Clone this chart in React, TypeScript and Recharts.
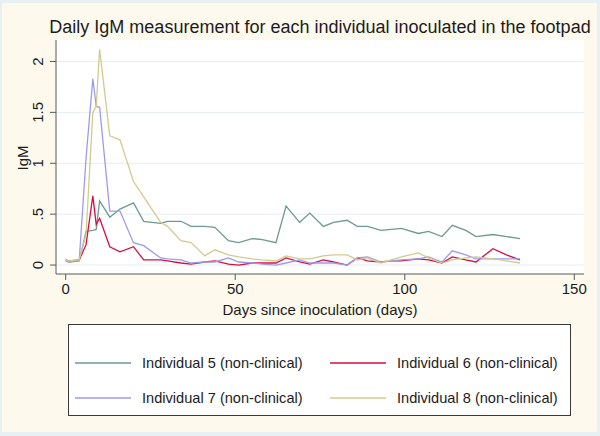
import React from 'react';
import { LineChart, Line, XAxis, YAxis, CartesianGrid } from 'recharts';

const days = [0, 1, 4, 6, 8, 9, 10, 13, 16, 20, 23, 28, 30, 34, 37, 41, 44, 48, 51, 55, 58, 62, 65, 69, 72, 76, 79, 83, 86, 89, 93, 96, 99, 104, 107, 111, 114, 118, 121, 126, 130, 134];

const ind5 = [0.04, 0.03, 0.04, 0.33, 0.34, 0.35, 0.63, 0.47, 0.55, 0.61, 0.43, 0.41, 0.43, 0.43, 0.38, 0.38, 0.37, 0.24, 0.22, 0.26, 0.25, 0.22, 0.58, 0.42, 0.51, 0.38, 0.42, 0.44, 0.38, 0.38, 0.34, 0.35, 0.36, 0.31, 0.33, 0.28, 0.39, 0.34, 0.28, 0.3, 0.28, 0.26];
const ind6 = [0.05, 0.04, 0.05, 0.2, 0.68, 0.4, 0.46, 0.18, 0.13, 0.18, 0.05, 0.05, 0.04, 0.02, 0.01, 0.03, 0.04, 0.01, 0.0, 0.02, 0.02, 0.02, 0.07, 0.03, 0.01, 0.05, 0.03, 0.0, 0.07, 0.04, 0.03, 0.04, 0.04, 0.06, 0.05, 0.02, 0.08, 0.05, 0.03, 0.16, 0.1, 0.05];
const ind7 = [0.04, 0.03, 0.05, 1.05, 1.83, 1.56, 1.55, 0.53, 0.53, 0.22, 0.19, 0.07, 0.06, 0.05, 0.02, 0.03, 0.03, 0.07, 0.03, 0.02, 0.01, 0.0, 0.02, 0.05, 0.02, 0.02, 0.02, 0.0, 0.07, 0.08, 0.03, 0.04, 0.05, 0.06, 0.08, 0.03, 0.14, 0.1, 0.06, 0.06, 0.06, 0.06];
const ind8 = [0.05, 0.04, 0.05, 0.3, 1.5, 1.56, 2.12, 1.27, 1.23, 0.82, 0.67, 0.42, 0.38, 0.24, 0.22, 0.09, 0.15, 0.1, 0.08, 0.06, 0.05, 0.04, 0.09, 0.06, 0.06, 0.09, 0.1, 0.1, 0.05, 0.07, 0.02, 0.05, 0.08, 0.12, 0.07, 0.02, 0.05, 0.07, 0.08, 0.06, 0.04, 0.02];

const seriesNames = ['Individual 5 (non-clinical)', 'Individual 6 (non-clinical)', 'Individual 7 (non-clinical)', 'Individual 8 (non-clinical)'];
const seriesKeys = ['s5', 's6', 's7', 's8'];
const seriesColors = ['#6E9A8F', '#D90D42', '#9E9BEA', '#D3CA8E'];

const xTicks = [0, 50, 100, 150];
const yTicks = [0, 0.5, 1, 1.5, 2];
const yTickLabels = ['0', '.5', '1', '1.5', '2'];

const title = 'Daily IgM measurement for each individual inoculated in the footpad';
const xTitle = 'Days since inoculation (days)';
const yTitle = 'IgM';

const data = days.map((d, i) => ({ day: d, s5: ind5[i], s6: ind6[i], s7: ind7[i], s8: ind8[i] }));

const FONT = '"Liberation Sans", Arial, sans-serif';
const TEXT = '#1c1c1c';
const AXIS = '#5a5a5a';

const YTick = (props: any) => {
  const { x, y, payload } = props;
  const idx = yTicks.indexOf(payload.value);
  const label = idx >= 0 ? yTickLabels[idx] : String(payload.value);
  return (
    <text
      transform={`translate(${x - 5},${y}) rotate(-90)`}
      textAnchor="middle"
      fontSize={15}
      fontFamily={FONT}
      fill={TEXT}
    >
      {label}
    </text>
  );
};

export default function App() {
  return (
    <div style={{ position: 'absolute', left: 0, top: 0, width: 600, height: 436, background: '#E7F0F3', overflow: 'hidden' }}>
      <div style={{ position: 'absolute', left: 2, top: 3, width: 595, height: 429, background: '#FDF9ED' }} />
      <div style={{ position: 'absolute', left: 0, top: 0 }}>
        <LineChart width={600} height={436} data={data} margin={{ top: 40, right: 16, left: 0, bottom: 0 }}>
          <CartesianGrid vertical={false} horizontal={true} fill="#FFFFFF" stroke="#E6EDF0" strokeWidth={1} horizontalValues={yTicks} />
          <XAxis
            dataKey="day"
            type="number"
            domain={[-2.86, 152.86]}
            ticks={xTicks}
            allowDataOverflow
            height={162}
            stroke={AXIS}
            tickSize={6}
            tickMargin={3}
            tick={{ fontSize: 15, fontFamily: FONT, fill: TEXT }}
            tickLine={{ stroke: AXIS }}
          />
          <YAxis
            type="number"
            domain={[-0.088, 2.211]}
            ticks={yTicks}
            allowDataOverflow
            width={56}
            stroke={AXIS}
            tickSize={6}
            tickMargin={2}
            tick={<YTick />}
            tickLine={{ stroke: AXIS }}
          />
          {seriesKeys.map((k, i) => (
            <Line
              key={k}
              dataKey={k}
              type="linear"
              stroke={seriesColors[i]}
              strokeWidth={1.3}
              dot={false}
              activeDot={false}
              isAnimationActive={false}
            />
          ))}
        </LineChart>
      </div>
      <svg width={600} height={436} style={{ position: 'absolute', left: 0, top: 0, pointerEvents: 'none' }}>
        <text x={320} y={33} textAnchor="middle" fontSize={18} fontFamily={FONT} fill={TEXT}>{title}</text>
        <text x={320} y={315} textAnchor="middle" fontSize={15} fontFamily={FONT} fill={TEXT}>{xTitle}</text>
        <text transform="translate(28,158) rotate(-90)" textAnchor="middle" fontSize={15} fontFamily={FONT} fill={TEXT}>{yTitle}</text>
        <rect x={68.5} y={324.5} width={502} height={91} fill="#FFFFFF" stroke="#3a3a3a" strokeWidth={1} />
        {seriesNames.map((name, i) => {
          const col = i % 2;
          const row = Math.floor(i / 2);
          const lx = col === 0 ? 75 : 330;
          const cy = row === 0 ? 363 : 398;
          return (
            <g key={name}>
              <line x1={lx} x2={lx + 56} y1={cy} y2={cy} stroke={seriesColors[i]} strokeWidth={1.3} />
              <text x={lx + 67} y={cy + 5} fontSize={14.6} fontFamily={FONT} fill={TEXT}>{name}</text>
            </g>
          );
        })}
      </svg>
    </div>
  );
}
